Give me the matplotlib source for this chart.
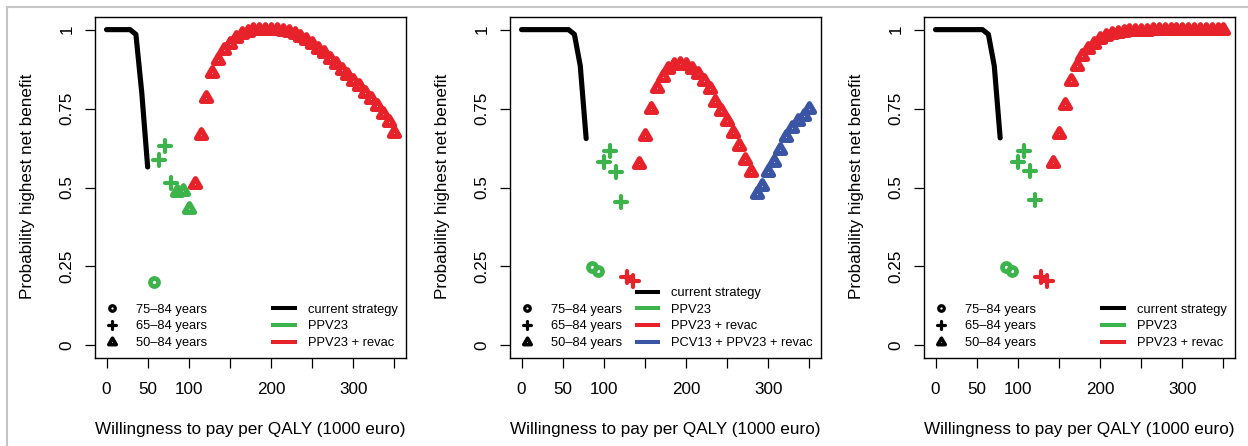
import numpy as np
import matplotlib.pyplot as plt
from matplotlib.lines import Line2D
from matplotlib.markers import MarkerStyle
from matplotlib.path import Path

plt.rcParams['font.family'] = ['Liberation Sans', 'DejaVu Sans']

# willingness to pay grid (1000 euro), 50 evaluation points
wtp = np.linspace(0, 350, 50)

# panel A
a_current = [1.0, 1.0, 1.0, 1.0, 1.0, 0.985, 0.80, 0.565]
a_ppv23_75 = [0.20]
a_ppv23_65 = [0.588, 0.630, 0.514]
a_ppv23_50 = [0.486, 0.488, 0.433]
a_revac_50 = [0.512, 0.666, 0.785, 0.862, 0.905, 0.937, 0.955, 0.972, 0.985, 0.993,
              0.998, 1.0, 1.0, 0.999, 0.998, 0.996, 0.991, 0.985, 0.976, 0.966,
              0.954, 0.940, 0.925, 0.908, 0.891, 0.873, 0.857, 0.838, 0.820, 0.799,
              0.779, 0.757, 0.734, 0.708, 0.673]

# panel B
b_current = [1.0, 1.0, 1.0, 1.0, 1.0, 1.0, 1.0, 1.0, 1.0, 0.985, 0.885, 0.655]
b_ppv23_75 = [0.247, 0.236]
b_ppv23_65 = [0.580, 0.615, 0.550, 0.455]
b_revac_65 = [0.215, 0.204]
b_revac_50 = [0.574, 0.663, 0.749, 0.815, 0.851, 0.875, 0.887, 0.891, 0.887, 0.876,
              0.858, 0.838, 0.812, 0.772, 0.743, 0.712, 0.672, 0.630, 0.587, 0.548]
b_pcv13_50 = [0.478, 0.506, 0.548, 0.582, 0.618, 0.659, 0.690, 0.712, 0.728, 0.748]

# panel C
c_current = [1.0, 1.0, 1.0, 1.0, 1.0, 1.0, 1.0, 1.0, 1.0, 0.985, 0.885, 0.657]
c_ppv23_75 = [0.248, 0.235]
c_ppv23_65 = [0.580, 0.617, 0.553, 0.461]
c_revac_65 = [0.216, 0.203]
c_revac_50 = [0.578, 0.670, 0.762, 0.838, 0.884, 0.916, 0.938, 0.955, 0.969, 0.979,
              0.986, 0.990, 0.993, 0.995, 0.996, 0.997, 0.997, 0.998, 0.998, 0.998,
              0.999, 0.999, 0.999, 0.999, 1.0, 1.0, 1.0, 1.0, 1.0, 1.0]

panels = [
    [("current", None, a_current), ("ppv", "75", a_ppv23_75), ("ppv", "65", a_ppv23_65),
     ("ppv", "50", a_ppv23_50), ("revac", "50", a_revac_50)],
    [("current", None, b_current), ("ppv", "75", b_ppv23_75), ("ppv", "65", b_ppv23_65),
     ("revac", "65", b_revac_65), ("revac", "50", b_revac_50), ("pcv", "50", b_pcv13_50)],
    [("current", None, c_current), ("ppv", "75", c_ppv23_75), ("ppv", "65", c_ppv23_65),
     ("revac", "65", c_revac_65), ("revac", "50", c_revac_50)],
]

strat_names = {"current": "current strategy", "ppv": "PPV23",
               "revac": "PPV23 + revac", "pcv": "PCV13 + PPV23 + revac"}
strat_cols = {"current": "black", "ppv": "#3cb44b", "revac": "#e8222a", "pcv": "#3a55a4"}
age_names = {"75": "75\u201384 years", "65": "65\u201384 years", "50": "50\u201384 years"}

tri = Path([(0, 1), (-0.866, -0.5), (0.866, -0.5), (0, 1)],
           [Path.MOVETO, Path.LINETO, Path.LINETO, Path.CLOSEPOLY])


def marker_kw(age, small=False):
    if age == "75":
        kw = dict(marker="o", ms=5.8, mew=3.4)
        if small:
            kw = dict(marker="o", ms=4.0, mew=2.3)
    elif age == "65":
        kw = dict(marker=MarkerStyle("+", capstyle="round"), ms=8.2, mew=3.0)
        if small:
            kw = dict(marker=MarkerStyle("+", capstyle="round"), ms=6.0, mew=2.3)
    else:
        kw = dict(marker=MarkerStyle(tri, joinstyle="round"), ms=8.4, mew=3.7)
        if small:
            kw = dict(marker=MarkerStyle(tri, joinstyle="round"), ms=6.2, mew=2.6)
    return kw


fig = plt.figure(figsize=(12.48, 4.46), dpi=100)
lefts = [95, 510, 924]

for k, segs in enumerate(panels):
    ax = fig.add_axes([lefts[k] / 1248, 88 / 446, 311 / 1248, 341 / 446])
    pos = 0
    for strat, age, vals in segs:
        x = wtp[pos:pos + len(vals)]
        pos += len(vals)
        col = strat_cols[strat]
        if age is None:
            ax.plot(x, vals, color=col, lw=3.7, solid_capstyle="round",
                    solid_joinstyle="round")
        else:
            ax.plot(x, vals, ls="none", mec=col, mfc="none", **marker_kw(age))

    ax.set_xlim(-14, 364)
    ax.set_ylim(-0.04, 1.04)
    ax.set_xticks([0, 50, 100, 150, 200, 250, 300, 350])
    ax.set_xticklabels(["0", "50", "100", "", "200", "", "300", ""])
    ax.set_yticks([0, 0.25, 0.5, 0.75, 1])
    ax.set_yticklabels(["0", "0.25", "0.5", "0.75", "1"])
    ax.tick_params(direction="out", length=7.2, width=0.9, labelsize=12.3)
    ax.tick_params(axis="x", pad=10)
    ax.tick_params(axis="y", pad=7.5)
    for lab in ax.get_yticklabels():
        lab.set_rotation(90)
        lab.set_va("center")
    for sp in ax.spines.values():
        sp.set_linewidth(1.0)

    ax.set_xlabel("Willingness to pay per QALY (1000 euro)", fontsize=12.3)
    ax.xaxis.set_label_coords(0.5, -0.187)
    ax.set_ylabel("Probability highest net benefit", fontsize=12.3)
    ax.yaxis.set_label_coords(-0.192, 0.503)

    ages = ["75", "65", "50"]
    age_h = [Line2D([], [], ls="none", color="black", mec="black", mfc="none",
                    **marker_kw(a, small=True)) for a in ages]
    leg1 = ax.legend(age_h, [age_names[a] for a in ages], loc="lower left",
                     bbox_to_anchor=(0.0338, 0.026), frameon=False, fontsize=9.3,
                     handlelength=1.0, handletextpad=1.36, labelspacing=0.36,
                     borderpad=0, borderaxespad=0)
    ax.add_artist(leg1)

    strats = []
    for strat, age, vals in segs:
        if strat not in strats:
            strats.append(strat)
    st_h = [Line2D([], [], color=strat_cols[s], lw=2.9, solid_capstyle="butt")
            for s in strats]
    ax.legend(st_h, [strat_names[s] for s in strats], loc="lower right",
              bbox_to_anchor=(0.974, 0.026), frameon=False, fontsize=9.3,
              handlelength=2.0, handletextpad=0.85, labelspacing=0.36,
              borderpad=0, borderaxespad=0)

# light grey frame at top and left of the figure
fig.add_artist(Line2D([7 / 1248, 1], [1 - 7 / 446, 1 - 7 / 446], color="#c4c4c4",
                      lw=1.5, transform=fig.transFigure))
fig.add_artist(Line2D([7 / 1248, 7 / 1248], [0, 1 - 7 / 446], color="#c4c4c4",
                      lw=1.5, transform=fig.transFigure))

fig.savefig("out.png", dpi=100)
